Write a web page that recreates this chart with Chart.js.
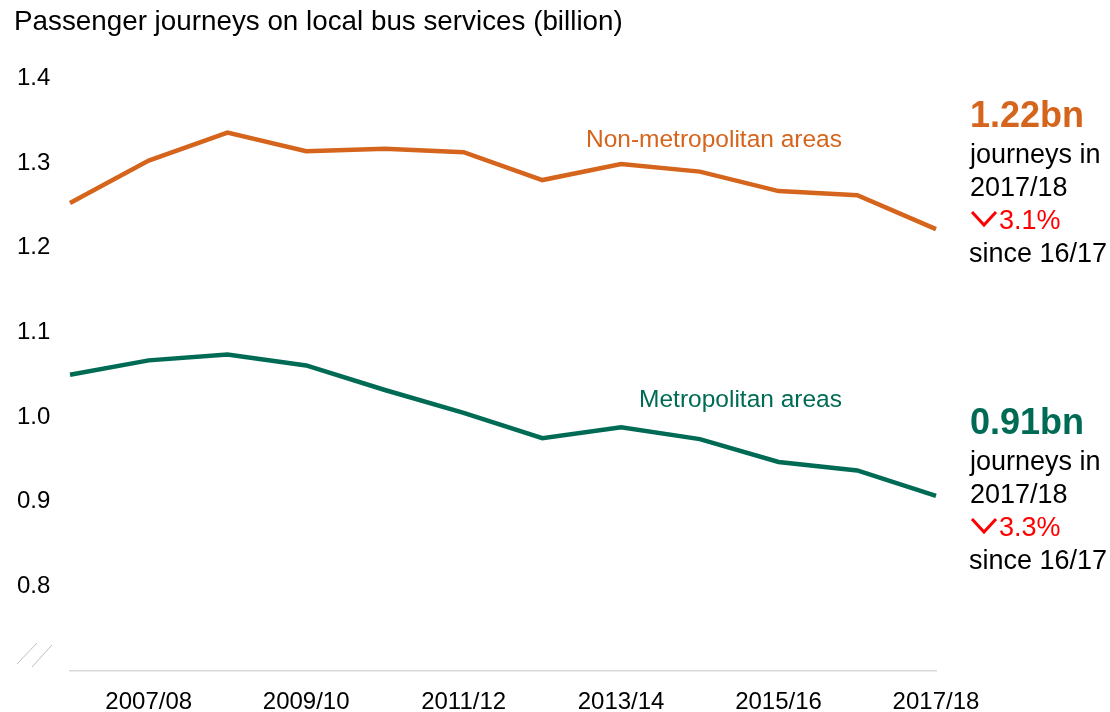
<!DOCTYPE html>
<html>
<head>
<meta charset="utf-8">
<script src="https://cdn.jsdelivr.net/npm/chart.js@4"></script>
<style>
  html, body { margin: 0; padding: 0; background: #ffffff; }
  #wrap { width: 1110px; height: 712px; position: relative; }
</style>
</head>
<body>
<div id="wrap"><canvas id="c" width="1110" height="712"></canvas></div>
<script>
// ---- Data ----
const years = ['2006/07','2007/08','2008/09','2009/10','2010/11','2011/12','2012/13','2013/14','2014/15','2015/16','2016/17','2017/18'];
const shownYearLabels = ['2007/08','2009/10','2011/12','2013/14','2015/16','2017/18'];
const nonMetropolitan = [1.253, 1.303, 1.336, 1.314, 1.317, 1.313, 1.280, 1.299, 1.290, 1.267, 1.262, 1.222];
const metropolitan    = [1.050, 1.067, 1.074, 1.061, 1.032, 1.005, 0.975, 0.988, 0.974, 0.947, 0.937, 0.907];
const yTickValues = [0.8, 0.9, 1.0, 1.1, 1.2, 1.3, 1.4];

const titleText = 'Passenger journeys on local bus services (billion)';
const seriesNames = ['Non-metropolitan areas', 'Metropolitan areas'];
const headline = ['1.22bn', '0.91bn'];
const changeText = ['3.1%', '3.3%'];

const ORANGE = '#D5641C';
const GREEN = '#006B54';
const RED = '#FF0000';
const FONT = '"Liberation Sans", Arial, Helvetica, sans-serif';

const decor = {
  id: 'decor',
  afterDraw(chart) {
    const ctx = chart.ctx;
    ctx.save();
    // Title
    ctx.fillStyle = '#000';
    ctx.font = '27.8px ' + FONT;
    ctx.textAlign = 'left';
    ctx.textBaseline = 'alphabetic';
    ctx.fillText(titleText, 14, 30);

    // Axis break marks
    ctx.strokeStyle = '#BFBFBF';
    ctx.lineWidth = 1;
    ctx.beginPath();
    ctx.moveTo(17, 664); ctx.lineTo(37, 643);
    ctx.moveTo(32, 667); ctx.lineTo(52, 645);
    ctx.stroke();

    // Series labels
    ctx.textAlign = 'right';
    ctx.font = '24.5px ' + FONT;
    ctx.fillStyle = ORANGE;
    ctx.fillText(seriesNames[0], 842, 147);
    ctx.fillStyle = GREEN;
    ctx.fillText(seriesNames[1], 842, 407);

    // Right-hand annotations
    const blocks = [
      { off: 0, color: ORANGE, big: headline[0], pct: changeText[0] },
      { off: 307, color: GREEN, big: headline[1], pct: changeText[1] }
    ];
    ctx.textAlign = 'left';
    blocks.forEach(b => {
      ctx.fillStyle = b.color;
      ctx.font = 'bold 36px ' + FONT;
      ctx.fillText(b.big, 970, 127 + b.off);
      ctx.fillStyle = '#000';
      ctx.font = '27px ' + FONT;
      ctx.fillText('journeys in', 970, 163 + b.off);
      ctx.fillText('2017/18', 970, 196 + b.off);
      ctx.fillText('since 16/17', 969, 262 + b.off);
      // chevron
      ctx.strokeStyle = RED;
      ctx.lineWidth = 3;
      ctx.lineJoin = 'miter';
      ctx.beginPath();
      ctx.moveTo(972, 212 + b.off);
      ctx.lineTo(984, 225 + b.off);
      ctx.lineTo(996, 212 + b.off);
      ctx.stroke();
      ctx.fillStyle = RED;
      ctx.fillText(b.pct, 999, 229 + b.off);
    });
    ctx.restore();
  }
};

new Chart(document.getElementById('c'), {
  type: 'line',
  data: {
    labels: years,
    datasets: [
      { label: seriesNames[0], data: nonMetropolitan, borderColor: ORANGE, backgroundColor: ORANGE,
        borderWidth: 4.5, pointRadius: 0, tension: 0, borderCapStyle: 'butt', borderJoinStyle: 'miter', fill: false },
      { label: seriesNames[1], data: metropolitan, borderColor: GREEN, backgroundColor: GREEN,
        borderWidth: 4.5, pointRadius: 0, tension: 0, borderCapStyle: 'butt', borderJoinStyle: 'miter', fill: false }
    ]
  },
  options: {
    responsive: false,
    animation: false,
    devicePixelRatio: 1,
    layout: { padding: { left: 17, right: 174, top: 78.5, bottom: 0 } },
    plugins: { legend: { display: false }, title: { display: false }, tooltip: { enabled: false } },
    scales: {
      x: {
        type: 'category',
        offset: false,
        grid: { display: false, drawTicks: false },
        border: { display: true, color: '#D9D9D9', width: 1.5 },
        ticks: {
          autoSkip: false, maxRotation: 0, minRotation: 0, padding: 17,
          color: '#000', font: { family: FONT, size: 24 },
          callback: function(v, i) {
            const lab = years[i];
            return shownYearLabels.includes(lab) ? lab : '';
          }
        },
        afterFit: s => { s.height = 41; }
      },
      y: {
        min: 0.7, max: 1.4,
        grid: { display: false, drawTicks: false },
        border: { display: false },
        afterBuildTicks: s => { s.ticks = [0.7].concat(yTickValues).map(v => ({ value: v })); },
        ticks: {
          crossAlign: 'far', padding: 0,
          color: '#000', font: { family: FONT, size: 24 },
          callback: v => (yTickValues.some(t => Math.abs(t - v) < 1e-6) ? Number(v).toFixed(1) : '')
        },
        afterFit: s => { s.width = 53; }
      }
    }
  },
  plugins: [decor]
});
</script>
</body>
</html>
